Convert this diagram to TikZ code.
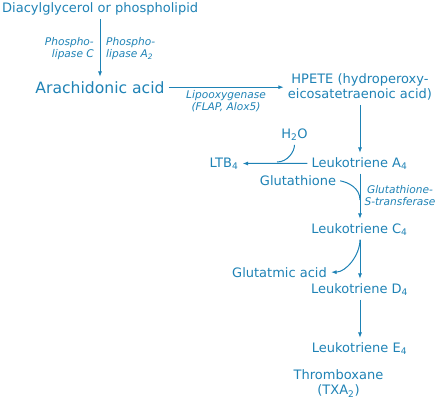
\documentclass[tikz,border=0pt]{standalone}
\usepackage{fontspec}
\setmainfont{DejaVu Sans}
\usetikzlibrary{arrows.meta}
\definecolor{lipidblue}{HTML}{1E82B5}
\begin{document}
\begin{tikzpicture}[x=1pt,y=-1pt,>={Latex[length=5.5pt,width=4pt]},every node/.style={text=lipidblue,inner sep=0pt,font=\fontsize{13}{15.5}\selectfont},big/.style={font=\fontsize{15.6}{18}\selectfont},enz/.style={font=\fontsize{10.6}{12.5}\selectfont\itshape},link/.style={draw=lipidblue,line width=1pt,shorten <=4pt,shorten >=4pt}]
\useasboundingbox (0,0) rectangle (438,400);
\node[anchor=base west] (dag) at (2,12) {Diacylglycerol or phospholipid};
\node[big,anchor=base] (ara) at (100,93) {Arachidonic acid};
\node[enz,anchor=north east,align=right] (plc) at (94,37) {Phospho-\\lipase C};
\node[enz,anchor=north west,align=left] (pla) at (106,37) {Phospho-\\lipase A\textsubscript{2}};
\node[anchor=north,align=center] (hpete) at (360,73.3) {HPETE (hydroperoxy-\\eicosatetraenoic acid)};
\node[enz,anchor=north,align=center] (lox) at (226,90) {Lipooxygenase\\(FLAP, Alox5)};
\node[anchor=base] (water) at (294.5,138) {H\textsubscript{2}O};
\node[anchor=base] (ltb) at (224,167) {LTB\textsubscript{4}};
\node[anchor=base] (lta) at (359.5,167) {Leukotriene A\textsubscript{4}};
\node[anchor=base] (gsh) at (298,185) {Glutathione};
\node[enz,anchor=north,align=center] (gst) at (400,185) {Glutathione-\\S-transferase};
\node[anchor=base] (ltc) at (359.5,233) {Leukotriene C\textsubscript{4}};
\node[anchor=base] (glu) at (279.5,277) {Glutatmic acid};
\node[anchor=base] (ltd) at (359.5,293) {Leukotriene D\textsubscript{4}};
\node[anchor=base] (lte) at (359.5,352) {Leukotriene E\textsubscript{4}};
\node[anchor=north,align=center] (txa) at (338.5,369.3) {Thromboxane\\(TXA\textsubscript{2})};
\coordinate (join) at (277,162);
\coordinate (merge) at (360,200);
\draw[link,->] (dag.south -| ara.north) -- (ara.north);
\draw[link,->] (ara.east) -- (ara.east -| hpete.west);
\draw[link,->] (hpete.south -| 360,0) -- (lta.north -| 360,0);
\draw[link,->] (lta.west) -- (ltb.east);
\draw[link,shorten >=0pt] (water.south) to[out=-90,in=0] (join);
\draw[link,->] (lta.south -| 360,0) -- (ltc.north -| 360,0);
\draw[link,shorten >=0pt] (gsh.east) to[out=-10,in=90] (merge);
\draw[link,->] (ltc.south -| 360,0) -- (ltd.north -| 360,0);
\draw[link,->] (ltc.south -| 360,0) to[out=-90,in=0] (glu.east);
\draw[link,->] (ltd.south -| 360,0) -- (lte.north -| 360,0);
\end{tikzpicture}
\end{document}
